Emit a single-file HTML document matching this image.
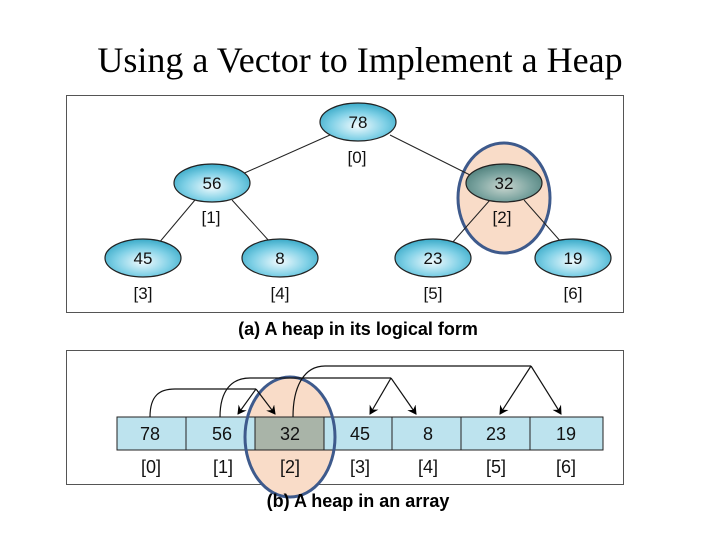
<!DOCTYPE html>
<html><head><style>
body{margin:0;background:#fff;width:720px;height:540px;overflow:hidden}
</style></head><body>
<svg width="720" height="540" xmlns="http://www.w3.org/2000/svg" font-family="Liberation Sans, sans-serif">
<defs>
<radialGradient id="g" cx="50%" cy="60%" r="60%"><stop offset="0" stop-color="#f2fbfe"/><stop offset="0.6" stop-color="#7fd0e6"/><stop offset="1" stop-color="#3aaac8"/></radialGradient>
<radialGradient id="g2" cx="50%" cy="60%" r="60%"><stop offset="0" stop-color="#c9d6cf"/><stop offset="0.6" stop-color="#7aa39f"/><stop offset="1" stop-color="#4f807c"/></radialGradient>
<marker id="ah" markerWidth="10" markerHeight="10" refX="8" refY="5" orient="auto" markerUnits="userSpaceOnUse"><path d="M0,0 L9,5 L0,10 L3,5z" fill="#000"/></marker>
</defs>
<text x="360" y="72" text-anchor="middle" font-family="Liberation Serif, serif" font-size="36">Using a Vector to Implement a Heap</text>
<rect x="66.5" y="95.5" width="557" height="217" fill="#fff" stroke="#555"/>
<ellipse cx="504" cy="198" rx="46" ry="55" fill="#f9dcc8" stroke="#3e5a8c" stroke-width="3"/>
<g stroke="#222" stroke-width="1">
<line x1="330" y1="135" x2="240" y2="175"/><line x1="390" y1="135" x2="476" y2="178"/>
<line x1="195" y1="200" x2="158" y2="244"/><line x1="232" y1="200" x2="270" y2="242"/>
<line x1="490" y1="200" x2="452" y2="243"/><line x1="524" y1="200" x2="562" y2="243"/>
</g>
<g stroke="#222" stroke-width="1.2">
<ellipse cx="358" cy="122" rx="38" ry="19" fill="url(#g)"/>
<ellipse cx="212" cy="183" rx="38" ry="19" fill="url(#g)"/>
<ellipse cx="504" cy="183" rx="38" ry="19" fill="url(#g2)"/>
<ellipse cx="143" cy="258" rx="38" ry="19" fill="url(#g)"/>
<ellipse cx="280" cy="258" rx="38" ry="19" fill="url(#g)"/>
<ellipse cx="433" cy="258" rx="38" ry="19" fill="url(#g)"/>
<ellipse cx="573" cy="258" rx="38" ry="19" fill="url(#g)"/>
</g>
<g font-size="17" text-anchor="middle" fill="#111">
<text x="358" y="128">78</text><text x="212" y="189">56</text><text x="504" y="189">32</text>
<text x="143" y="264">45</text><text x="280" y="264">8</text><text x="433" y="264">23</text><text x="573" y="264">19</text>
<text x="357" y="163">[0]</text><text x="211" y="223">[1]</text><text x="502" y="223">[2]</text>
<text x="143" y="299">[3]</text><text x="280" y="299">[4]</text><text x="433" y="299">[5]</text><text x="573" y="299">[6]</text>
</g>
<text x="358" y="335" text-anchor="middle" font-size="18" font-weight="bold">(a) A heap in its  logical form</text>
<rect x="66.5" y="350.5" width="557" height="134" fill="#fff" stroke="#555"/>
<ellipse cx="290" cy="437" rx="45" ry="60" fill="#f9dcc8"/>
<g stroke="#222" stroke-width="1">
<rect x="117" y="417" width="486" height="33" fill="#bde3ee"/>
<rect x="255" y="417" width="69" height="33" fill="#a9b4a8"/>
<line x1="186" y1="417" x2="186" y2="450"/><line x1="255" y1="417" x2="255" y2="450"/>
<line x1="324" y1="417" x2="324" y2="450"/><line x1="392" y1="417" x2="392" y2="450"/>
<line x1="461" y1="417" x2="461" y2="450"/><line x1="530" y1="417" x2="530" y2="450"/>
</g>
<ellipse cx="290" cy="437" rx="45" ry="60" fill="none" stroke="#3e5a8c" stroke-width="3"/>
<g fill="none" stroke="#111" stroke-width="1.2">
<path d="M150,417 C150,395 160,389 175,389 L256,389" />
<path d="M256,389 L238,414" marker-end="url(#ah)"/><path d="M256,389 L275,414" marker-end="url(#ah)"/>
<path d="M220,417 C220,390 232,378 250,378 L391,378"/>
<path d="M391,378 L370,414" marker-end="url(#ah)"/><path d="M391,378 L416,414" marker-end="url(#ah)"/>
<path d="M293,417 C293,385 305,366 325,366 L531,366"/>
<path d="M531,366 L500,414" marker-end="url(#ah)"/><path d="M531,366 L561,414" marker-end="url(#ah)"/>
</g>
<g font-size="18" text-anchor="middle" fill="#111">
<text x="150" y="440">78</text><text x="222" y="440">56</text><text x="290" y="440">32</text>
<text x="360" y="440">45</text><text x="428" y="440">8</text><text x="496" y="440">23</text><text x="566" y="440">19</text>
<text x="151" y="473">[0]</text><text x="223" y="473">[1]</text><text x="290" y="473">[2]</text>
<text x="360" y="473">[3]</text><text x="428" y="473">[4]</text><text x="496" y="473">[5]</text><text x="566" y="473">[6]</text>
</g>
<text x="358" y="507" text-anchor="middle" font-size="18" font-weight="bold">(b) A heap in an array</text>
</svg>
</body></html>
